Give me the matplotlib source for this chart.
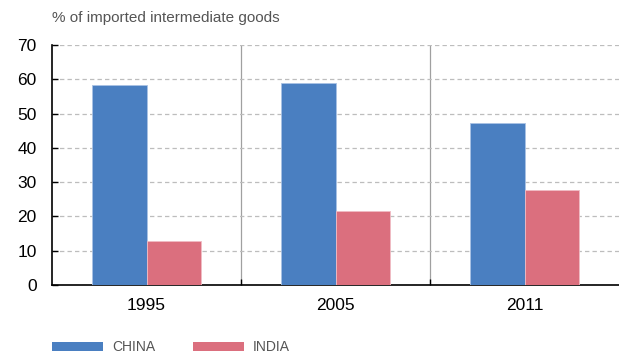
import matplotlib.pyplot as plt
from matplotlib.patches import Patch
import numpy as np

years = ["1995", "2005", "2011"]
china = [58.3, 58.9, 47.2]
india = [12.8, 21.6, 27.7]
series_names = ["CHINA", "INDIA"]
y_ticks = [0, 10, 20, 30, 40, 50, 60, 70]

blue = "#4a7fc1"
pink = "#db6f7e"

plt.rcParams['font.family'] = ['Liberation Sans', 'DejaVu Sans']

fig = plt.figure(figsize=(6.19, 3.58), dpi=100)
ax = fig.add_axes([52 / 619, 1 - 285 / 358, 1 - 52 / 619, (285 - 45) / 358])

x = np.arange(len(years))
w = 0.29
ax.bar(x - w / 2, china, w, color=blue, edgecolor="#a9c2e4", linewidth=0.6, zorder=3)
ax.bar(x + w / 2, india, w, color=pink, edgecolor="#f0bcc4", linewidth=0.6, zorder=3)

ax.set_xlim(-0.5, len(years) - 0.5)
ax.set_ylim(0, 70)
ax.set_yticks(y_ticks)
ax.set_xticks(x)
ax.set_xticklabels(years)
ax.set_xticks(x[:-1] + 0.5, minor=True)

# dashed horizontal grid, solid gray category separators
ax.grid(axis="y", which="major", color="#bdbdbd", linestyle=(0, (3.5, 2.5)), linewidth=0.9, zorder=0)
ax.grid(axis="x", which="minor", color="#a0a0a0", linestyle="-", linewidth=0.9, zorder=0)

ax.tick_params(axis="x", which="major", length=0, pad=9, labelsize=12.5)
ax.tick_params(axis="x", which="minor", direction="in", length=4, width=1, color="black")
ax.tick_params(axis="y", direction="in", length=4, width=1, labelsize=12.5, pad=11)

for s in ["top", "right"]:
    ax.spines[s].set_visible(False)
ax.spines["left"].set_linewidth(1.2)
ax.spines["bottom"].set_linewidth(1.2)

fig.text(52 / 619, 1 - 18 / 358, "% of imported intermediate goods", fontsize=11,
         color="#555555", va="center", ha="left")

handles = [Patch(facecolor=blue), Patch(facecolor=pink)]
leg = fig.legend(handles, series_names, loc="lower left", bbox_to_anchor=(39 / 619, -0.025),
                 ncol=2, frameon=False, handlelength=3.7, handleheight=0.65,
                 handletextpad=0.65, columnspacing=2.7,
                 prop={"size": 10})
for t in leg.get_texts():
    t.set_color("#555555")

fig.savefig("out.png", dpi=100)
